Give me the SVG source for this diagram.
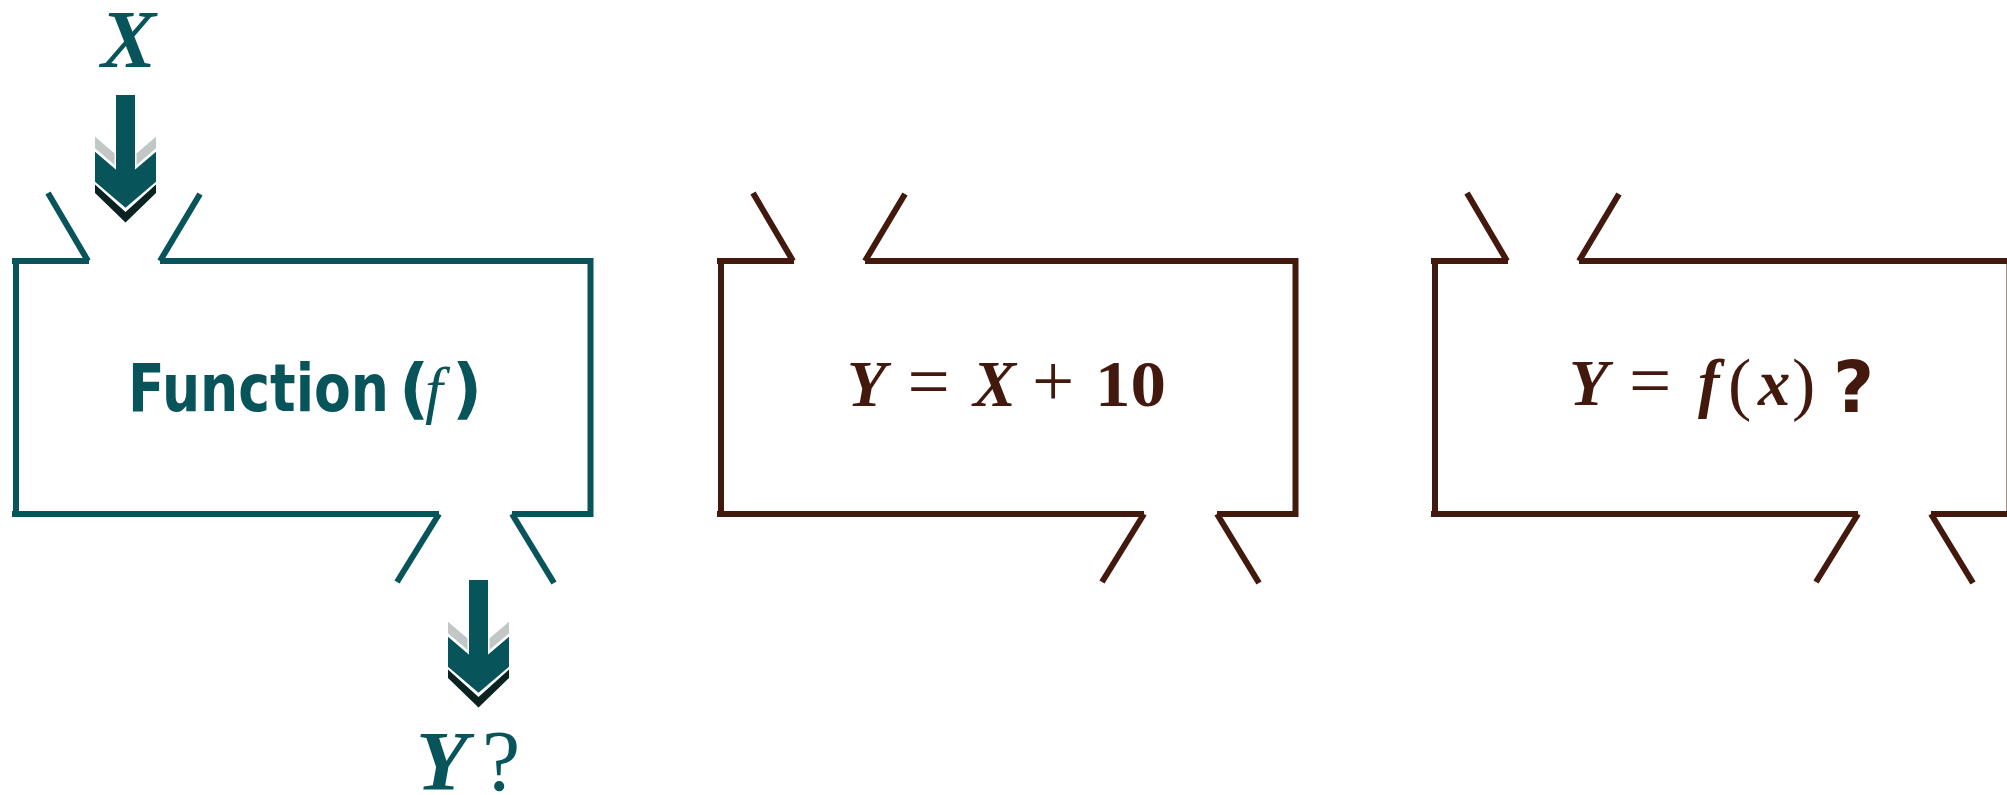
<svg xmlns="http://www.w3.org/2000/svg" xmlns:xlink="http://www.w3.org/1999/xlink" width="2007" height="795" viewBox="0 0 2007 795">
<style>
.teal{stroke:#07545a}
.brown{stroke:#43190e}
.frame{fill:none;stroke-width:6;stroke-linecap:butt}
.tt{fill:#07545a}
.bt{fill:#43190e}
.serif{font-family:"Liberation Serif","Times New Roman",serif}
.bi{font-weight:bold;font-style:italic}
.sans{font-family:"DejaVu Sans","Liberation Sans",sans-serif;font-weight:bold}
</style>
<defs>
<path id="box" d="M12 261 H89 M88 261 L48 193 M160 261 L200 194 M160 261 H593 M16 258 V517 M590.5 258 V517 M12 514 H439 M439 514 L397 582 M512 514 H593 M512 514 L554 583"/>
<g id="arrow">
<path d="M-30.5 41.7 L0 67.7 L30.5 41.7 V53.3 L0 79.3 L-30.5 53.3 Z" fill="#c1c7c5"/>
<path d="M-30.5 56.7 L0 82.7 L30.5 56.7 V86.7 L0 112.7 L-30.5 86.7 Z" fill="#07545a"/>
<path d="M-30.5 89.5 L0 117 L30.5 89.5 V98 L0 127.5 L-30.5 98 Z" fill="#0b2222"/>
<rect x="-11" y="40" width="22" height="33" fill="#ffffff"/>
<rect x="-9.5" y="0" width="19" height="100" fill="#07545a"/>
</g>
</defs>
<rect width="2007" height="795" fill="#ffffff"/>
<g id="connectors">
<use xlink:href="#arrow" href="#arrow" x="125.5" y="95"/>
<use xlink:href="#arrow" href="#arrow" x="478.5" y="580"/>
</g>
<g id="input-x">
<text class="serif bi tt" x="101" y="67" font-size="82.5">X</text>
</g>
<g id="output-y">
<text class="serif tt" y="790" font-size="85"><tspan x="416" font-weight="bold" font-style="italic">Y</tspan><tspan x="482" font-size="86">?</tspan></text>
</g>
<g id="box-function">
<use xlink:href="#box" href="#box" class="frame teal"/>
<text class="sans tt" x="128" y="410.7" font-size="66" textLength="261" lengthAdjust="spacingAndGlyphs">Function</text>
<text class="sans tt" y="410.7" font-size="66"><tspan x="399">(</tspan><tspan x="425" font-family="Liberation Serif, Times New Roman, serif" font-weight="normal" font-style="italic" font-size="64">f</tspan><tspan x="452">)</tspan></text>
</g>
<g id="box-example">
<use xlink:href="#box" href="#box" class="frame brown" transform="translate(705,0)"/>
<text class="serif bi bt" x="847" y="406" font-size="64.5">Y</text>
<text class="serif bt" x="907.5" y="406" font-size="75">=</text>
<text class="serif bi bt" x="973" y="406" font-size="64.5">X</text>
<text class="serif bt" x="1032" y="406" font-size="75">+</text>
<text class="serif bt" x="1095" y="406" font-size="64.5" font-weight="bold" textLength="71" lengthAdjust="spacingAndGlyphs">10</text>
</g>
<g id="box-question">
<use xlink:href="#box" href="#box" class="frame brown" transform="translate(1419,0)"/>
<text class="serif bi bt" x="1569" y="405" font-size="64.5">Y</text>
<text class="serif bt" x="1629" y="405" font-size="75">=</text>
<text class="serif bt" y="405" font-size="64.5"><tspan x="1698" font-weight="bold" font-style="italic">f</tspan><tspan x="1728" y="407" font-size="70">(</tspan><tspan x="1758" y="405" font-weight="bold" font-style="italic">x</tspan><tspan x="1792" y="407" font-size="70">)</tspan></text>
<text class="sans bt" x="1833" y="412" font-size="71">?</text>
</g>
</svg>
